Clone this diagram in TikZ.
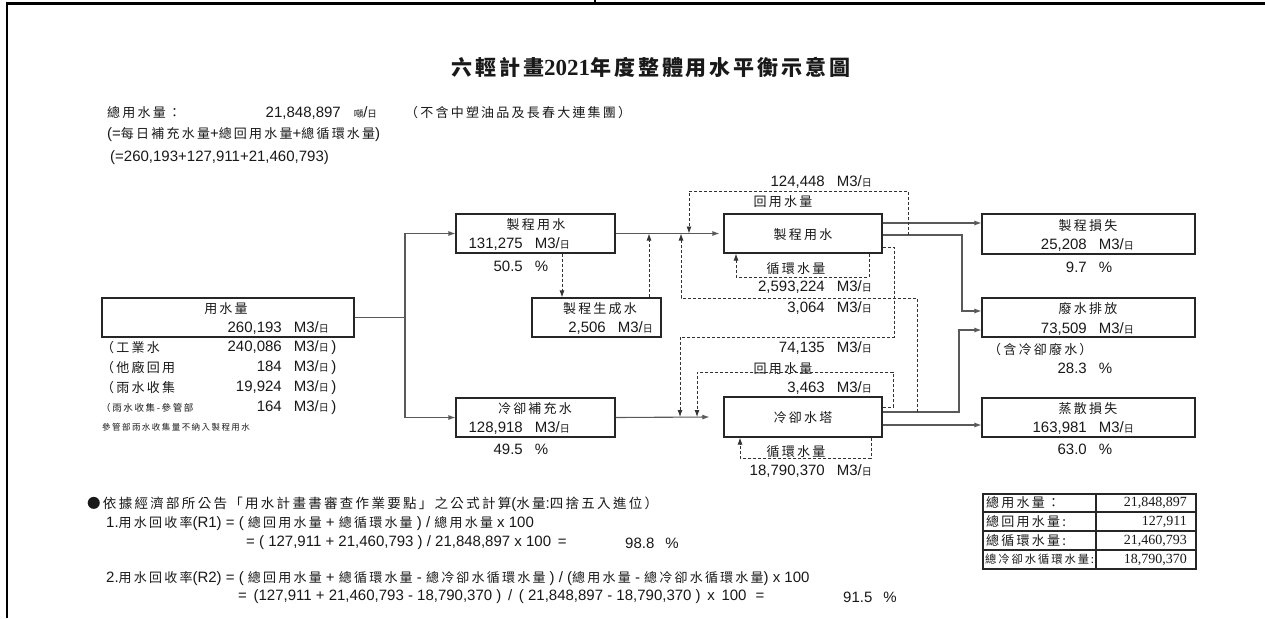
\documentclass[tikz,border=0pt]{standalone}
\usepackage{fontspec}
\setmainfont{Liberation Sans}
\newfontfamily\cjkf{Noto Sans CJK TC}[LetterSpace=17]
\newfontfamily\cjkt{Noto Sans CJK TC}[LetterSpace=14]
\newfontfamily\serf{Liberation Serif}
\usetikzlibrary{arrows.meta}
\newcommand\Cn[1]{{\cjkf\fontsize{13}{14}\selectfont #1}}
\newcommand\Cmid[1]{{\cjkf\fontsize{13.5}{15}\selectfont #1}}
\newcommand\Csm[1]{{\cjkf\fontsize{8.5}{10}\selectfont #1}}
\newcommand\Crw[1]{{\cjkf\fontsize{9.5}{11}\selectfont #1}}
\newcommand\riday{{\cjkf\fontsize{10}{12}\selectfont 日}}
\newcommand\Unit{M3/\riday}
\newcommand\Qn[1]{#1\rlap{\hspace{12pt}\Unit}}
\newcommand\Qpar[1]{#1\rlap{\hspace{12pt}\Unit\,)}}
\newcommand\Pct[1]{#1\rlap{\hspace{12pt}\%}}
\begin{document}
\begin{tikzpicture}[x=1pt,y=-1pt,
  txt/.style={inner sep=0pt,font=\fontsize{15}{17}\selectfont,text=black!90},
  box/.style={draw=black!85,line width=1.1pt,minimum width=#1,minimum height=39pt,inner sep=0pt},
  flow/.style={draw=black!65,line width=1.1pt},
  dsh/.style={draw=black!80,line width=0.9pt,dash pattern=on 3pt off 2pt},
  arr/.style={-{Latex[length=7pt,width=5pt]}},
  tline/.style={draw=black!85,line width=1.3pt}]
\useasboundingbox (0,0) rectangle (1265,618);
\fill[white] (0,0) rectangle (1265,618);
% frame
\draw[line width=2.6pt] (7,618) -- (7,3.5) -- (1265,3.5);
\draw[line width=2pt] (595,0) -- (595,3.5);
% title
\node[txt] (title) at (651,67) {{\cjkt\fontsize{21}{24}\selectfont\bfseries 六輕計畫}{\serf\fontsize{23}{24}\selectfont\bfseries 2021}{\cjkt\fontsize{21}{24}\selectfont\bfseries 年度整體用水平衡示意圖}};
% header
\node[txt,anchor=west] (h1) at (107,113) {\Cn{總用水量：}};
\node[txt,anchor=east] (h1n) at (341,113) {21,848,897\rlap{\hspace{13pt}\Crw{噸}/\Crw{日}}};
\node[txt,anchor=west] (h1c) at (405,113) {\Cn{（不含中塑油品及長春大連集團）}};
\node[txt,anchor=west] (h2) at (107,135) {(=\Cn{每日補充水量}+\Cn{總回用水量}+\Cn{總循環水量})};
\node[txt,anchor=west] (h3) at (110,158) {(=260,193+127,911+21,460,793)};
% boxes
\node[box=252pt] (use) at (228,317.5) {};
\node[box=159pt] (pw) at (535.5,233.5) {};
\node[box=159pt] (cm) at (535.5,417.5) {};
\node[box=129pt] (gen) at (596.5,317.5) {};
\node[box=158pt] (pu) at (803,233.5) {};
\node[box=158pt,minimum height=40pt] (ct) at (803,417) {};
\node[box=213pt,minimum height=40pt] (loss) at (1088.5,234) {};
\node[box=213pt] (ww) at (1088.5,317.5) {};
\node[box=213pt] (ev) at (1088.5,417.5) {};
% box texts
\node[txt] (useT) at (226,309) {\Cn{用水量}};
\node[txt,anchor=east] (useN) at (282,328) {\Qn{260,193}};
\node[txt,anchor=west] (r1) at (101,348) {\Cn{（工業水}};
\node[txt,anchor=east] (r1n) at (282,348) {\Qpar{240,086}};
\node[txt,anchor=west] (r2) at (101,368) {\Cn{（他廠回用}};
\node[txt,anchor=east] (r2n) at (282,368) {\Qpar{184}};
\node[txt,anchor=west] (r3) at (101,388) {\Cn{（雨水收集}};
\node[txt,anchor=east] (r3n) at (282,388) {\Qpar{19,924}};
\node[txt,anchor=west] (r4) at (101,408) {\Crw{（雨水收集-參管部}};
\node[txt,anchor=east] (r4n) at (282,408) {\Qpar{164}};
\node[txt,anchor=west] (note) at (102,427) {\Csm{參管部雨水收集量不納入製程用水}};
\node[txt] (pwT) at (536,225) {\Cn{製程用水}};
\node[txt,anchor=east] (pwN) at (523,244) {\Qn{131,275}};
\node[txt,anchor=east] (pwP) at (523,266) {\Pct{50.5}};
\node[txt] (cmT) at (535,409) {\Cn{冷卻補充水}};
\node[txt,anchor=east] (cmN) at (523,428) {\Qn{128,918}};
\node[txt,anchor=east] (cmP) at (523,449) {\Pct{49.5}};
\node[txt] (genT) at (600,309) {\Cn{製程生成水}};
\node[txt,anchor=east] (genN) at (606,328) {\Qn{2,506}};
\node[txt] (puT) at (803,235) {\Cn{製程用水}};
\node[txt] (ctT) at (803,418) {\Cn{冷卻水塔}};
\node[txt] (lossT) at (1088,226) {\Cn{製程損失}};
\node[txt,anchor=east] (lossN) at (1087,245) {\Qn{25,208}};
\node[txt,anchor=east] (lossP) at (1087,267) {\Pct{9.7}};
\node[txt] (wwT) at (1088,309) {\Cn{廢水排放}};
\node[txt,anchor=east] (wwN) at (1087,329) {\Qn{73,509}};
\node[txt,anchor=west] (wwC) at (988,350) {\Cn{（含冷卻廢水）}};
\node[txt,anchor=east] (wwP) at (1087,368) {\Pct{28.3}};
\node[txt] (evT) at (1088,409) {\Cn{蒸散損失}};
\node[txt,anchor=east] (evN) at (1087,428) {\Qn{163,981}};
\node[txt,anchor=east] (evP) at (1087,449) {\Pct{63.0}};
% flow labels
\node[txt,anchor=east] (f1) at (825,182) {\Qn{124,448}};
\node[txt] (f1t) at (783,202) {\Cn{回用水量}};
\node[txt] (c1t) at (796,269) {\Cn{循環水量}};
\node[txt,anchor=east] (c1) at (825,287) {\Qn{2,593,224}};
\node[txt,anchor=east] (f2) at (825,308) {\Qn{3,064}};
\node[txt,anchor=east] (f3) at (825,348) {\Qn{74,135}};
\node[txt] (f4t) at (783,369) {\Cn{回用水量}};
\node[txt,anchor=east] (f4) at (825,388) {\Qn{3,463}};
\node[txt] (c2t) at (796,452) {\Cn{循環水量}};
\node[txt,anchor=east] (c2) at (825,471) {\Qn{18,790,370}};
% solid flows
\coordinate (J) at (405,317.5);
\draw[flow] (use.east) -- (J);
\draw[flow,arr] (J) |- (pw.west);
\draw[flow,arr] (J) |- (cm.west);
\draw[flow,arr] (pw.east) -- ([xshift=-4pt]pu.west);
\draw[flow,arr] (cm.east) -- ([xshift=-14pt]ct.west);
\draw[flow,arr] (pu.east |- 0,223) -- (loss.west |- 0,223);
\draw[flow,arr] (pu.east |- 0,235) -- (962,235) -- (962,311) -- (ww.west |- 0,311);
\draw[flow,arr] (ct.east |- 0,412) -- (959,412) -- (959,330) -- (ww.west |- 0,330);
\draw[flow,arr] (ct.east |- 0,425) -- (ev.west |- 0,425);
% dashed flows
\draw[dsh,arr] (pw.south -| 562,0) -- (gen.north -| 562,0);
\draw[dsh,arr] (gen.north -| 649,0) -- (pw.east -| 649,0);
\draw[dsh,arr] (908,235) -- (908,191) -| (pw.east -| 689,0);
\draw[dsh,arr] (917,412) -- (917,298) -| (pw.east -| 681,0);
\draw[dsh,arr] (pu.south -| 869,0) -- (869,277) -| (pu.south -| 736,0);
\draw[dsh,arr] (pu.east |- 0,247) -- (894,247) -- (894,337) -| (ct.west -| 680,0);
\draw[dsh,arr] (ct.east |- 0,407) -- (893,407) -- (893,372) -| (ct.west -| 697,0);
\draw[dsh,arr] (ct.south -| 871,0) -- (871,458) -| (ct.south -| 740,0);
% bottom formulas
\node[txt,anchor=west] (b0) at (87,504) {\Cmid{●依據經濟部所公告「用水計畫書審查作業要點」之公式計算}(\Cmid{水量}:\Cmid{四捨五入進位）}};
\node[txt,anchor=west] (b1) at (106,524) {1.\Cn{用水回收率}(R1) = ( \Cn{總回用水量} + \Cn{總循環水量} ) / \Cn{總用水量} x 100};
\node[txt,anchor=west] (b2) at (246,543) {= ( 127,911 + 21,460,793 ) / 21,848,897 x 100 \,=};
\node[txt,anchor=west] (b2r) at (625,543) {98.8\hspace{11pt}\%};
\node[txt,anchor=west] (b3) at (106,579) {2.\Cn{用水回收率}(R2) = ( \Cn{總回用水量} + \Cn{總循環水量} - \Cn{總冷卻水循環水量} ) / (\Cn{總用水量} - \Cn{總冷卻水循環水量}) x 100};
\node[txt,anchor=west] (b4) at (238,597) {= \,(127,911 + 21,460,793 - 18,790,370 ) \,/\, ( 21,848,897 - 18,790,370 ) \,x\, 100 \,\,=};
\node[txt,anchor=west] (b4r) at (843,597) {91.5\hspace{11pt}\%};
% table
\node[draw=black!85,line width=1.3pt,minimum width=213pt,minimum height=75pt,inner sep=0pt] (tab) at (1089.5,531.5) {};
\draw[tline] (tab.north -| 1096,0) -- (tab.south -| 1096,0);
\draw[tline] (tab.west |- 0,512) -- (tab.east |- 0,512);
\draw[tline] (tab.west |- 0,531) -- (tab.east |- 0,531);
\draw[tline] (tab.west |- 0,550) -- (tab.east |- 0,550);
\node[txt,anchor=west] (t1) at (986,503) {\Cn{總用水量：}};
\node[txt,anchor=west] (t2) at (986,521.5) {\Cn{總回用水量:}};
\node[txt,anchor=west] (t3) at (986,540.5) {\Cn{總循環水量:}};
\node[txt,anchor=west] (t4) at (985,559.5) {{\cjkf\fontsize{11.3}{13}\selectfont 總冷卻水循環水量:}};
\node[txt,anchor=east] (t1n) at (1187,503) {\serf\fontsize{14}{16}\selectfont 21,848,897};
\node[txt,anchor=east] (t2n) at (1187,521.5) {\serf\fontsize{14}{16}\selectfont 127,911};
\node[txt,anchor=east] (t3n) at (1187,540.5) {\serf\fontsize{14}{16}\selectfont 21,460,793};
\node[txt,anchor=east] (t4n) at (1187,559.5) {\serf\fontsize{14}{16}\selectfont 18,790,370};
\end{tikzpicture}
\end{document}
